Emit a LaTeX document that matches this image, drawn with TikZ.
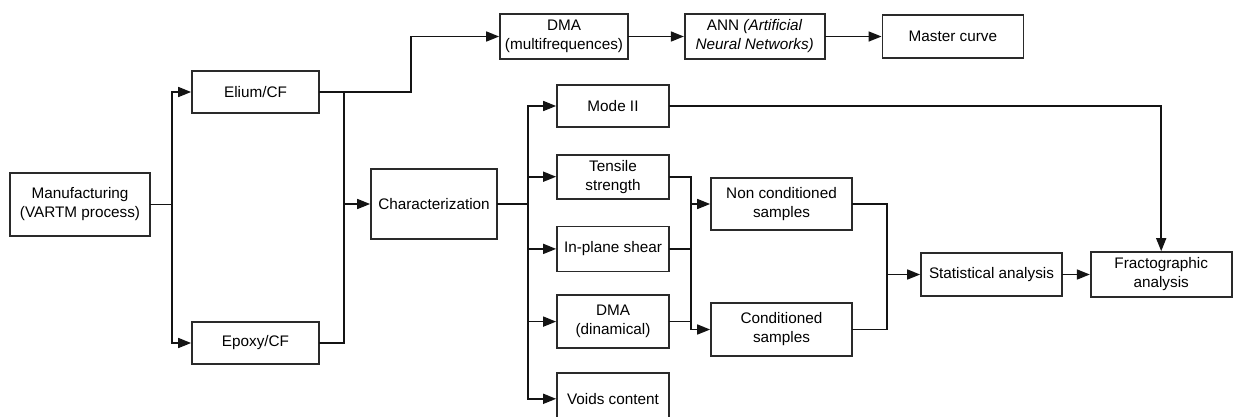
\documentclass[tikz,border=0pt]{standalone}
\usepackage{fontspec}
\setmainfont{Liberation Sans}
\usetikzlibrary{arrows.meta,positioning,calc}
\definecolor{FlowLine}{HTML}{141414}
\definecolor{FlowBox}{HTML}{2A2A2A}

\begin{document}
\begin{tikzpicture}[x=1pt,y=-1pt,
  box/.style={draw=FlowBox,line width=1.7pt,inner sep=0pt,align=center,font=\fontsize{15.3}{19}\selectfont},
  link/.style={line width=1.6pt,FlowLine,line cap=rect},
  arr/.style={link,-{Triangle[length=13pt,width=10pt]}},
]
\useasboundingbox (0,0) rectangle (1233,416);

% process and materials
\node[box,minimum width=140pt,minimum height=63pt] (manuf) at (80,204.5) {Manufacturing\\(VARTM process)};
\node[box,minimum width=127pt,minimum height=42pt] (elium) at (255.5,92) {Elium/CF};
\node[box,minimum width=127pt,minimum height=42pt] (epoxy) at (255.5,343) {Epoxy/CF};
\node[box,minimum width=126pt,minimum height=70pt] (charac) at (434,204) {Characterization};

% upper branch
\node[box,minimum width=128pt,minimum height=45pt] (dmamf) at (564,36.5) {DMA\\(multifrequences)};
\node[box,minimum width=140pt,minimum height=45pt,right=55pt of dmamf] (ann) {ANN \textit{(Artificial}\\\textit{Neural Networks)}};
\node[box,minimum width=141pt,minimum height=43pt,right=56pt of ann] (master) {Master curve};

% tests
\node[box,minimum width=112pt,minimum height=42pt] (mode) at (613,106) {Mode II};
\node[box,minimum width=112pt,minimum height=44pt,below=26pt of mode] (tensile) {Tensile\\strength};
\node[box,minimum width=112pt,minimum height=45pt,below=26pt of tensile] (shear) {In-plane shear};
\node[box,minimum width=112pt,minimum height=53pt,below=22pt of shear] (dmadyn) {DMA\\(dinamical)};
\node[box,minimum width=112pt,minimum height=52pt,below=23pt of dmadyn] (voids) {Voids content};

% samples and analysis
\node[box,minimum width=141pt,minimum height=52pt] (noncond) at (781.5,204) {Non conditioned\\samples};
\node[box,minimum width=141pt,minimum height=53pt] (cond) at (781.5,329.5) {Conditioned\\samples};
\node[box,minimum width=141pt,minimum height=43pt] (stat) at (991.5,274.5) {Statistical analysis};
\node[box,minimum width=141pt,minimum height=45pt,right=27pt of stat] (fracto) {Fractographic\\analysis};

% junctions
\coordinate (jman) at ($(manuf.east)+(21,0)$);
\coordinate (jmat) at (344,204);
\coordinate (jchar) at ($(charac.east)+(30,0)$);
\coordinate (jtest) at ($(tensile.east)+(21,0)$);
\coordinate (jsmp) at (887,274.5);

\draw[arr] (manuf.east) -- (jman) |- (elium.west);
\draw[arr] (jman) |- (epoxy.west);
\draw[link] (elium.east) -| (jmat);
\draw[link] (epoxy.east) -| (jmat);
\draw[arr] (jmat) -- (charac.west);
\draw[arr] (elium.east) -- ++(91,0) |- (dmamf.west);
\draw[arr] (dmamf) -- (ann);
\draw[arr] (ann) -- (master);

\draw[link] (charac.east) -- (jchar);
\foreach \t in {mode,tensile,shear,dmadyn,voids}
  \draw[arr] (jchar) |- (\t.west);

\draw[link] (tensile.east) -- (jtest) -- (jtest |- dmadyn.east) -- (dmadyn.east);
\draw[link] (shear.east) -- (jtest |- shear.east);
\draw[arr] (jtest |- noncond.west) -- (noncond.west);
\draw[arr] (jtest |- dmadyn.east) |- (cond.west);

\draw[link] (noncond.east) -| (jsmp);
\draw[link] (cond.east) -| (jsmp);
\draw[arr] (jsmp) -- (stat.west);
\draw[arr] (stat) -- (fracto);
\draw[arr] (mode.east) -| (fracto.north);
\end{tikzpicture}
\end{document}
